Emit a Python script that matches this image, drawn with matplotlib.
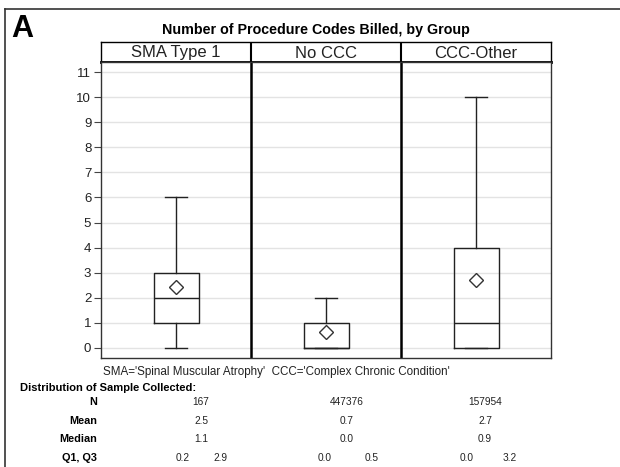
import matplotlib
matplotlib.use("Agg")
import matplotlib.pyplot as plt
from matplotlib.lines import Line2D

plt.rcParams['font.family'] = ['Liberation Sans', 'DejaVu Sans']

# box plot summary
groups = ['SMA Type 1', 'No CCC', 'CCC-Other']
whislo = [0, 0, 0]
q1 = [1, 0, 0]
med = [2, 0, 1]
q3 = [3, 1, 4]
whishi = [6, 2, 10]
means = [2.45, 0.65, 2.7]

# table under the plot
tab_n = ['167', '447376', '157954']
tab_mean = ['2.5', '0.7', '2.7']
tab_median = ['1.1', '0.0', '0.9']
tab_q1 = ['0.2', '0.0', '0.0']
tab_q3 = ['2.9', '0.5', '3.2']

W, H = 620, 467
fig = plt.figure(figsize=(W / 100, H / 100), dpi=100)

def px(x0, y0, x1, y1):
    # pixel box (top-left origin) -> figure fraction rect
    return [x0 / W, 1 - y1 / H, (x1 - x0) / W, (y1 - y0) / H]

# outer frame (top + left visible)
fig.add_artist(Line2D([5 / W, 1], [1 - 9 / H] * 2, color='#333333', lw=1.2, transform=fig.transFigure))
fig.add_artist(Line2D([5 / W] * 2, [0, 1 - 9 / H], color='#333333', lw=1.2, transform=fig.transFigure))

fig.text(11 / W, 1 - 29 / H, 'A', fontsize=22, fontweight='bold', va='center', ha='left')
fig.text(316 / W, 1 - 30 / H, 'Number of Procedure Codes Billed, by Group',
         fontsize=10.3, fontweight='bold', ha='center', va='center')

# header strip
hax = fig.add_axes(px(101, 42, 551, 62))
hax.set_xlim(0, 3)
hax.set_ylim(0, 1)
hax.set_xticks([])
hax.set_yticks([])
for s in hax.spines.values():
    s.set_linewidth(1.0)
hax.spines['bottom'].set_linewidth(2.0)
for i, g in enumerate(groups):
    hax.text(i + 0.5, 0.45, g, ha='center', va='center', fontsize=12, color='#222222')
for xv in [1, 2]:
    hax.axvline(xv, color='black', lw=1.5)

ax = fig.add_axes(px(101, 62, 551, 358))
stats = []
for i in range(3):
    stats.append(dict(whislo=whislo[i], q1=q1[i], med=med[i], q3=q3[i],
                      whishi=whishi[i], mean=means[i], fliers=[]))
ax.bxp(stats, positions=[0.5, 1.5, 2.5], widths=0.3, showmeans=True,
       boxprops=dict(color='#222222', lw=1.0),
       whiskerprops=dict(color='#222222', lw=1.0),
       capprops=dict(color='#222222', lw=1.0),
       medianprops=dict(color='#222222', lw=1.0),
       meanprops=dict(marker='D', markerfacecolor='white', markeredgecolor='#333333',
                      markersize=7.5, markeredgewidth=1.0),
       capwidths=0.147)
ax.set_xlim(0, 3)
ax.set_ylim(-0.4, 11.4)
ax.set_yticks(range(0, 12))
ax.set_xticks([])
ax.yaxis.grid(True, color='#e3e3e3', lw=1.0)
ax.set_axisbelow(True)
ax.tick_params(axis='y', labelsize=9.5, length=5, width=0.8, color='#444444', labelcolor='#222222', pad=2)
for s in ax.spines.values():
    s.set_linewidth(1.0)
    s.set_color('#333333')
for xv in [1, 2]:
    ax.axvline(xv, color='black', lw=1.8)

# footnote and stats table
fig.text(103 / W, 1 - 372 / H, "SMA='Spinal Muscular Atrophy'  CCC='Complex Chronic Condition'",
         fontsize=8.4, ha='left', va='center', color='#222222')
fig.text(20 / W, 1 - 388 / H, 'Distribution of Sample Collected:', fontsize=8,
         fontweight='bold', ha='left', va='center')

row_y = [402, 421, 439, 458]
row_lab = ['N', 'Mean', 'Median', 'Q1, Q3']
for yy, lab in zip(row_y, row_lab):
    fig.text(97 / W, 1 - yy / H, lab, fontsize=7.8, fontweight='bold', ha='right', va='center')

col_x = [201, 347, 485]
q1_x = [183, 325, 467]
q3_x = [220, 372, 510]
for i in range(3):
    fig.text(col_x[i] / W, 1 - row_y[0] / H, tab_n[i], fontsize=7.3, ha='center', va='center', color='#222222')
    fig.text(col_x[i] / W, 1 - row_y[1] / H, tab_mean[i], fontsize=7.3, ha='center', va='center', color='#222222')
    fig.text(col_x[i] / W, 1 - row_y[2] / H, tab_median[i], fontsize=7.3, ha='center', va='center', color='#222222')
    fig.text(q1_x[i] / W, 1 - row_y[3] / H, tab_q1[i], fontsize=7.3, ha='center', va='center', color='#222222')
    fig.text(q3_x[i] / W, 1 - row_y[3] / H, tab_q3[i], fontsize=7.3, ha='center', va='center', color='#222222')

fig.savefig('out.png', dpi=100)
